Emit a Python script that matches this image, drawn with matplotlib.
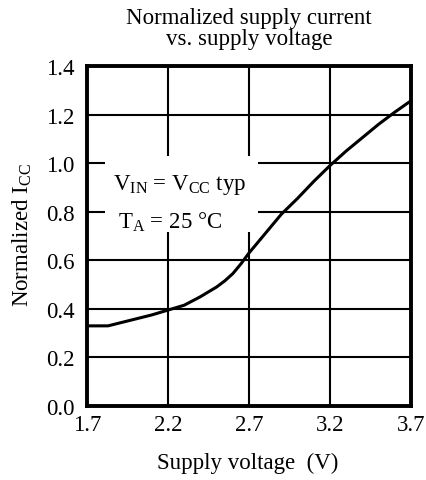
import matplotlib.pyplot as plt
import matplotlib.patches as patches

plt.rcParams["font.family"] = ["Liberation Serif", "DejaVu Serif"]
plt.rcParams["mathtext.fontset"] = "custom"
plt.rcParams["mathtext.rm"] = "Liberation Serif"
plt.rcParams["mathtext.it"] = "Liberation Serif:italic"

# supply voltage (V) and normalized Icc
voltage = [1.7, 1.83, 1.95, 2.1, 2.2, 2.3, 2.4, 2.5, 2.55, 2.6, 2.65, 2.7, 2.75, 2.8, 2.9,
           3.0, 3.1, 3.2, 3.3, 3.4, 3.5, 3.6, 3.7]
icc_norm = [0.33, 0.33, 0.35, 0.375, 0.395, 0.415, 0.45, 0.49, 0.515, 0.545, 0.585, 0.63,
            0.67, 0.71, 0.79, 0.855, 0.925, 0.99, 1.05, 1.105, 1.16, 1.21, 1.257]

x_ticks = [1.7, 2.2, 2.7, 3.2, 3.7]
y_ticks = [0.0, 0.2, 0.4, 0.6, 0.8, 1.0, 1.2, 1.4]

FS = 16.5

fig = plt.figure(figsize=(4.27, 4.81), dpi=100)
ax = fig.add_axes([87 / 427, 1 - 407 / 481, 324 / 427, 340 / 481])

ax.set_xlim(1.7, 3.7)
ax.set_ylim(0, 1.4)
ax.set_xticks(x_ticks)
ax.set_xticklabels([f"{v:.1f}" for v in x_ticks])
ax.set_yticks(y_ticks)
ax.set_yticklabels([f"{v:.1f}" for v in y_ticks])
ax.tick_params(length=0, labelsize=FS)
ax.tick_params(axis="x", pad=6)
ax.tick_params(axis="y", pad=9)
ax.grid(True, color="black", linewidth=1.5)
ax.set_axisbelow(True)
for s in ax.spines.values():
    s.set_linewidth(2.8)

ax.plot(voltage, icc_norm, color="black", linewidth=2.2, zorder=3)

# white label box over the grid
ax.add_patch(patches.Rectangle((1.81, 0.715), 0.945, 0.315, facecolor="white",
                               edgecolor="none", zorder=2))
ax.text(2.274, 0.914, r"$\mathrm{V_{IN}}$ = $\mathrm{V_{CC}}$ typ", fontsize=FS,
        ha="center", va="center", zorder=4)
ax.text(2.21, 0.76, r"$\mathrm{T_A}$ = 25 °C", fontsize=FS,
        ha="center", va="center", zorder=4)

fig.text(248 / 427, 1 - 463 / 481, "Supply voltage  (V)", fontsize=FS,
         ha="center", va="center")
fig.text(22 / 427, 1 - 235 / 481, r"Normalized $\mathrm{I_{CC}}$", fontsize=FS,
         ha="center", va="center", rotation=90)
fig.text(249 / 427, 1 - 29 / 481, "Normalized supply current\nvs. supply voltage",
         ha="center", va="center", fontsize=FS, linespacing=0.95)

fig.savefig("out.png", dpi=100, facecolor="white")
